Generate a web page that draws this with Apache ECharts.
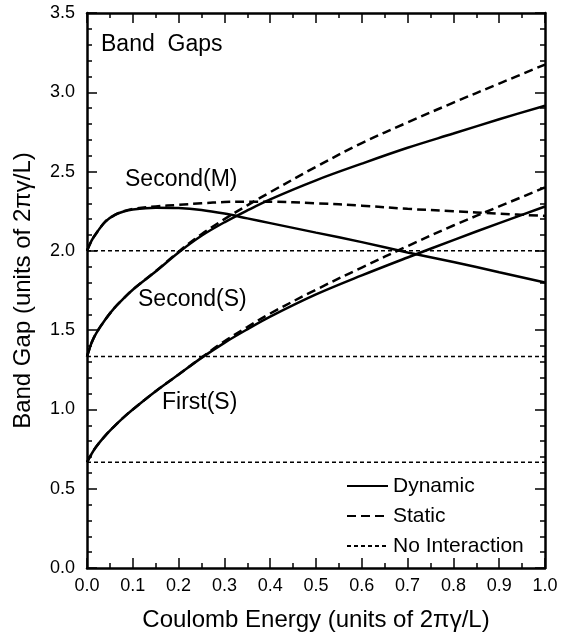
<!DOCTYPE html>
<html>
<head>
<meta charset="utf-8">
<script src="https://cdn.jsdelivr.net/npm/echarts@6/dist/echarts.min.js"></script>
<style>
  html, body { margin: 0; padding: 0; background: #fff; }
  #main { width: 570px; height: 637px; }
</style>
</head>
<body>
<div id="main"></div>
<script>
// coulomb energy grid (units of 2*pi*gamma/L)
var xs = [0, 0.01, 0.02, 0.04, 0.06, 0.08, 0.1, 0.15, 0.2, 0.25, 0.3, 0.35, 0.4, 0.5, 0.6, 0.7, 0.8, 0.9, 1.0]

var secondMDyn = [2.0, 2.065, 2.11, 2.185, 2.225, 2.248, 2.261, 2.272, 2.27, 2.258, 2.235, 2.205, 2.175, 2.115, 2.055, 1.99, 1.93, 1.865, 1.80]
var secondMSta = [2.0, 2.065, 2.11, 2.185, 2.225, 2.25, 2.265, 2.28, 2.29, 2.30, 2.308, 2.31, 2.31, 2.30, 2.285, 2.265, 2.25, 2.235, 2.22]
var secondSDyn = [1.333, 1.42, 1.48, 1.567, 1.64, 1.70, 1.755, 1.87, 1.99, 2.095, 2.18, 2.255, 2.325, 2.445, 2.55, 2.65, 2.74, 2.83, 2.915]
var secondSSta = [1.333, 1.42, 1.48, 1.567, 1.64, 1.70, 1.755, 1.872, 1.995, 2.105, 2.20, 2.287, 2.37, 2.53, 2.68, 2.81, 2.935, 3.055, 3.175]
var firstDyn = [0.667, 0.72, 0.765, 0.835, 0.895, 0.95, 1.0, 1.115, 1.22, 1.325, 1.42, 1.505, 1.585, 1.725, 1.845, 1.958, 2.068, 2.175, 2.28]
var firstSta = [0.667, 0.72, 0.765, 0.835, 0.895, 0.95, 1.0, 1.115, 1.22, 1.327, 1.43, 1.52, 1.605, 1.755, 1.895, 2.03, 2.16, 2.28, 2.40]

var noIntX = [0, 1]
var noIntLevels = [0.667, 1.333, 2.0]

var legendNames = ['Dynamic', 'Static', 'No Interaction']

var font = 'Liberation Sans, Arial, sans-serif'

function pairs (x, y) {
  return x.map(function (v, i) { return [v, y[i]] })
}

function curve (name, y, dash) {
  return {
    name: name,
    type: 'line',
    data: pairs(xs, y),
    smooth: 0.35,
    symbol: 'none',
    silent: true,
    z: 3,
    lineStyle: { color: '#000', width: 2.5, type: dash ? [9, 5] : 'solid' },
    itemStyle: { color: '#000' }
  }
}

var series = [
  curve('Dynamic', firstDyn, false),
  curve('Dynamic', secondSDyn, false),
  curve('Dynamic', secondMDyn, false),
  curve('Static', firstSta, true),
  curve('Static', secondSSta, true),
  curve('Static', secondMSta, true)
]
noIntLevels.forEach(function (lv) {
  series.push({
    name: 'No Interaction',
    type: 'line',
    data: noIntX.map(function (x) { return [x, lv] }),
    symbol: 'none',
    silent: true,
    z: 2,
    lineStyle: { color: '#000', width: 1.5, type: [4, 3] },
    itemStyle: { color: '#000' }
  })
})

var tickStyle = { color: '#000', width: 1.5 }
var axisLine = { show: true, onZero: false, lineStyle: { color: '#000', width: 2.5 } }

var myChart = echarts.init(document.getElementById('main'))
var option = {
  animation: false,
  backgroundColor: '#fff',
  textStyle: { fontFamily: font },
  grid: { left: 87, right: 25, top: 13, bottom: 68 },
  legend: {
    data: legendNames,
    orient: 'vertical',
    left: 341,
    top: 470,
    itemWidth: 41,
    itemHeight: 14,
    itemGap: 8,
    selectedMode: false,
    itemStyle: { opacity: 0, borderWidth: 0 },
    textStyle: { fontFamily: font, fontSize: 21, color: '#000', lineHeight: 22 }
  },
  xAxis: [
    {
      type: 'value', min: 0, max: 1, interval: 0.1,
      position: 'bottom',
      name: 'Coulomb Energy (units of 2πγ/L)',
      nameLocation: 'middle',
      nameGap: 40,
      nameTextStyle: { fontFamily: font, fontSize: 24, color: '#000' },
      axisLine: axisLine,
      axisTick: { inside: true, length: 10, lineStyle: tickStyle },
      minorTick: { show: true, splitNumber: 2, length: 5, lineStyle: tickStyle },
      axisLabel: { fontFamily: font, fontSize: 18, color: '#000', margin: 9,
        formatter: function (v) { return v.toFixed(1) } },
      splitLine: { show: false }
    },
    {
      type: 'value', min: 0, max: 1, interval: 0.1,
      position: 'top',
      axisLine: axisLine,
      axisTick: { inside: true, length: 10, lineStyle: tickStyle },
      minorTick: { show: true, splitNumber: 2, length: 5, lineStyle: tickStyle },
      axisLabel: { show: false },
      splitLine: { show: false }
    }
  ],
  yAxis: [
    {
      type: 'value', min: 0, max: 3.5, interval: 0.5,
      position: 'left',
      name: 'Band Gap (units of 2πγ/L)',
      nameLocation: 'middle',
      nameGap: 52,
      nameTextStyle: { fontFamily: font, fontSize: 24, color: '#000' },
      axisLine: axisLine,
      axisTick: { inside: true, length: 10, lineStyle: tickStyle },
      minorTick: { show: true, splitNumber: 5, length: 5, lineStyle: tickStyle },
      axisLabel: { fontFamily: font, fontSize: 18, color: '#000', margin: 12,
        formatter: function (v) { return v.toFixed(1) } },
      splitLine: { show: false }
    },
    {
      type: 'value', min: 0, max: 3.5, interval: 0.5,
      position: 'right',
      axisLine: axisLine,
      axisTick: { inside: true, length: 10, lineStyle: tickStyle },
      minorTick: { show: true, splitNumber: 5, length: 5, lineStyle: tickStyle },
      axisLabel: { show: false },
      splitLine: { show: false }
    }
  ],
  graphic: [
    { type: 'text', left: 101, top: 33, style: { text: 'Band  Gaps', font: '23px ' + font, fill: '#000' } },
    { type: 'text', left: 125, top: 168, style: { text: 'Second(M)', font: '23px ' + font, fill: '#000' } },
    { type: 'text', left: 138, top: 288, style: { text: 'Second(S)', font: '23px ' + font, fill: '#000' } },
    { type: 'text', left: 162, top: 391, style: { text: 'First(S)', font: '23px ' + font, fill: '#000' } }
  ],
  series: series
}
myChart.setOption(option)
</script>
</body>
</html>
